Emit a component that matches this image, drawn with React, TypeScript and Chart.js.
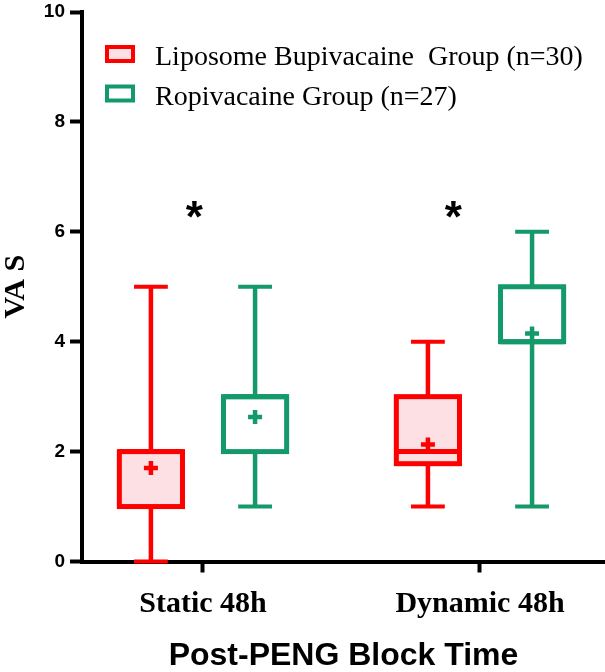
import { useEffect, useRef } from "react";
import { Chart, registerables } from "chart.js";

Chart.register(...registerables);

// ---------- data ----------
const categories = ["Static 48h", "Dynamic 48h"];
const groupNames = ["Liposome Bupivacaine  Group (n=30)", "Ropivacaine Group (n=27)"];

const lbMin = [0, 1];
const lbQ1 = [1, 1.78];
const lbMedian = [2, 2];
const lbQ3 = [2, 3];
const lbMax = [5, 4];
const lbMean = [1.7, 2.13];

const ropMin = [1, 1];
const ropQ1 = [2, 4];
const ropMedian = [3, 4];
const ropQ3 = [3, 5];
const ropMax = [5, 6];
const ropMean = [2.63, 4.15];

const yTickValues = [0, 2, 4, 6, 8, 10];

const starText = "*";
const starX = [0.97, 1.905];
const starY = [6.4, 6.4];

// ---------- styles ----------
const RED = "#FF0000";
const GREEN = "#14996A";
const PINK = "#FDE0E3";
const SERIF = "'Liberation Serif', 'Times New Roman', serif";
const SANS = "'Liberation Sans', Arial, sans-serif";

const GROUP_OFFSET = [-0.188, 0.188];
const BOX_HALF = 0.114;
const CAP_HALF = 0.061;

const groups = [
  { name: groupNames[0], min: lbMin, q1: lbQ1, med: lbMedian, q3: lbQ3, max: lbMax, mean: lbMean, color: RED, fill: PINK, offset: GROUP_OFFSET[0] },
  { name: groupNames[1], min: ropMin, q1: ropQ1, med: ropMedian, q3: ropQ3, max: ropMax, mean: ropMean, color: GREEN, fill: "#FFFFFF", offset: GROUP_OFFSET[1] },
];

const boxPlugin = {
  id: "boxPlot",
  beforeDatasetsDraw(chart: any) {
    const { ctx } = chart;
    const x = chart.scales.x;
    const y = chart.scales.y;
    groups.forEach((g) => {
      categories.forEach((_, ci) => {
        const xv = ci + 1 + g.offset;
        const cx = x.getPixelForValue(xv);
        const hw = x.getPixelForValue(xv + BOX_HALF) - cx;
        const cw = x.getPixelForValue(xv + CAP_HALF) - cx;
        const yMin = y.getPixelForValue(g.min[ci]);
        const yQ1 = y.getPixelForValue(g.q1[ci]);
        const yMed = y.getPixelForValue(g.med[ci]);
        const yQ3 = y.getPixelForValue(g.q3[ci]);
        const yMax = y.getPixelForValue(g.max[ci]);
        ctx.save();
        ctx.strokeStyle = g.color;
        ctx.lineCap = "butt";
        // whiskers
        ctx.lineWidth = 4.5;
        ctx.beginPath();
        ctx.moveTo(cx, yQ3);
        ctx.lineTo(cx, yMax);
        ctx.moveTo(cx, yQ1);
        ctx.lineTo(cx, yMin);
        ctx.stroke();
        // caps
        ctx.lineWidth = 4;
        ctx.beginPath();
        ctx.moveTo(cx - cw, yMax);
        ctx.lineTo(cx + cw, yMax);
        ctx.moveTo(cx - cw, yMin);
        ctx.lineTo(cx + cw, yMin);
        ctx.stroke();
        // box
        ctx.fillStyle = g.fill;
        ctx.fillRect(cx - hw, yQ3, hw * 2, yQ1 - yQ3);
        ctx.lineWidth = 5;
        ctx.lineJoin = "miter";
        ctx.strokeRect(cx - hw, yQ3, hw * 2, yQ1 - yQ3);
        // median
        ctx.lineWidth = 5;
        ctx.beginPath();
        ctx.moveTo(cx - hw, yMed);
        ctx.lineTo(cx + hw, yMed);
        ctx.stroke();
        ctx.restore();
      });
    });
  },
  afterDraw(chart: any) {
    const { ctx, chartArea } = chart;
    const x = chart.scales.x;
    const y = chart.scales.y;
    ctx.save();
    // legend
    groups.forEach((g, i) => {
      const bx = chartArea.left + 25;
      const by = chartArea.top + 35 + i * 39.5;
      ctx.fillStyle = g.fill;
      ctx.fillRect(bx, by, 26, 14);
      ctx.strokeStyle = g.color;
      ctx.lineWidth = 4;
      ctx.strokeRect(bx, by, 26, 14);
      ctx.fillStyle = "#000";
      ctx.font = `normal 28px ${SERIF}`;
      ctx.textAlign = "left";
      ctx.textBaseline = "alphabetic";
      ctx.fillText(g.name, chartArea.left + 73, chartArea.top + 53 + i * 40);
    });
    // significance stars
    ctx.font = `bold 44px ${SANS}`;
    ctx.fillStyle = "#000";
    ctx.textAlign = "left";
    ctx.textBaseline = "alphabetic";
    const m = ctx.measureText(starText);
    const gw = m.actualBoundingBoxRight + m.actualBoundingBoxLeft;
    const gh = m.actualBoundingBoxAscent + m.actualBoundingBoxDescent;
    starX.forEach((sx, i) => {
      const px = x.getPixelForValue(sx);
      const py = y.getPixelForValue(starY[i]);
      ctx.fillText(starText, px - gw / 2 + m.actualBoundingBoxLeft, py + m.actualBoundingBoxAscent - gh / 2);
    });
    ctx.restore();
  },
};

export default function App() {
  const canvasRef = useRef<HTMLCanvasElement | null>(null);

  useEffect(() => {
    if (!canvasRef.current) return;
    const chart = new Chart(canvasRef.current, {
      type: "scatter",
      data: {
        datasets: groups.map((g) => ({
          label: g.name,
          data: categories.map((_, ci) => ({ x: ci + 1 + g.offset, y: g.mean[ci] })),
          pointStyle: "cross",
          pointRadius: 7,
          pointHoverRadius: 7,
          borderWidth: 4.5,
          pointBorderWidth: 4.5,
          borderColor: g.color,
          backgroundColor: g.color,
          clip: false,
        })),
      },
      options: {
        animation: false,
        responsive: true,
        maintainAspectRatio: false,
        events: [],
        layout: { autoPadding: false, padding: { top: 12, right: 0, left: 0, bottom: 0 } },
        plugins: {
          legend: { display: false },
          tooltip: { enabled: false },
        },
        scales: {
          x: {
            type: "linear",
            min: 0.5632,
            max: 2.4513,
            afterBuildTicks: (scale: any) => {
              scale.ticks = categories.map((_, i) => ({ value: i + 1 }));
            },
            afterFit: (scale: any) => {
              scale.height = 110.5;
              scale.paddingLeft = 0;
              scale.paddingRight = 0;
            },
            ticks: {
              color: "#000",
              padding: 14,
              font: { family: SERIF, size: 30, weight: "bold" },
              callback: (v: any) => categories[Math.round(v) - 1] ?? "",
              maxRotation: 0,
              autoSkip: false,
            },
            grid: {
              display: true,
              drawOnChartArea: false,
              drawTicks: true,
              tickLength: 11,
              tickWidth: 4,
              tickColor: "#000",
              color: "#000",
            },
            border: { display: true, width: 4, color: "#000" },
            title: {
              display: true,
              text: "Post-PENG Block Time",
              color: "#000",
              font: { family: SANS, size: 32, weight: "bold", lineHeight: 1 },
              padding: { top: 0, bottom: 0 },
            },
          },
          y: {
            type: "linear",
            min: 0,
            max: 10,
            afterBuildTicks: (scale: any) => {
              scale.ticks = yTickValues.map((v) => ({ value: v }));
            },
            afterFit: (scale: any) => {
              scale.width = 82;
              scale.paddingTop = 0;
              scale.paddingBottom = 0;
            },
            ticks: {
              color: "#000",
              padding: 5,
              font: { family: SANS, size: 19, weight: "bold" },
            },
            grid: {
              display: true,
              drawOnChartArea: false,
              drawTicks: true,
              tickLength: 12,
              tickWidth: 4,
              tickColor: "#000",
              color: "#000",
            },
            border: { display: true, width: 4, color: "#000" },
            title: {
              display: true,
              text: "VA S",
              color: "#000",
              font: { family: SERIF, size: 30, weight: "bold", lineHeight: 1.05 },
              padding: { top: 0, bottom: 0 },
            },
          },
        },
      },
      plugins: [boxPlugin],
    });
    return () => chart.destroy();
  }, []);

  return (
    <div style={{ position: "absolute", left: 0, top: 0, width: 605, height: 672, background: "#fff" }}>
      <canvas ref={canvasRef} />
    </div>
  );
}
